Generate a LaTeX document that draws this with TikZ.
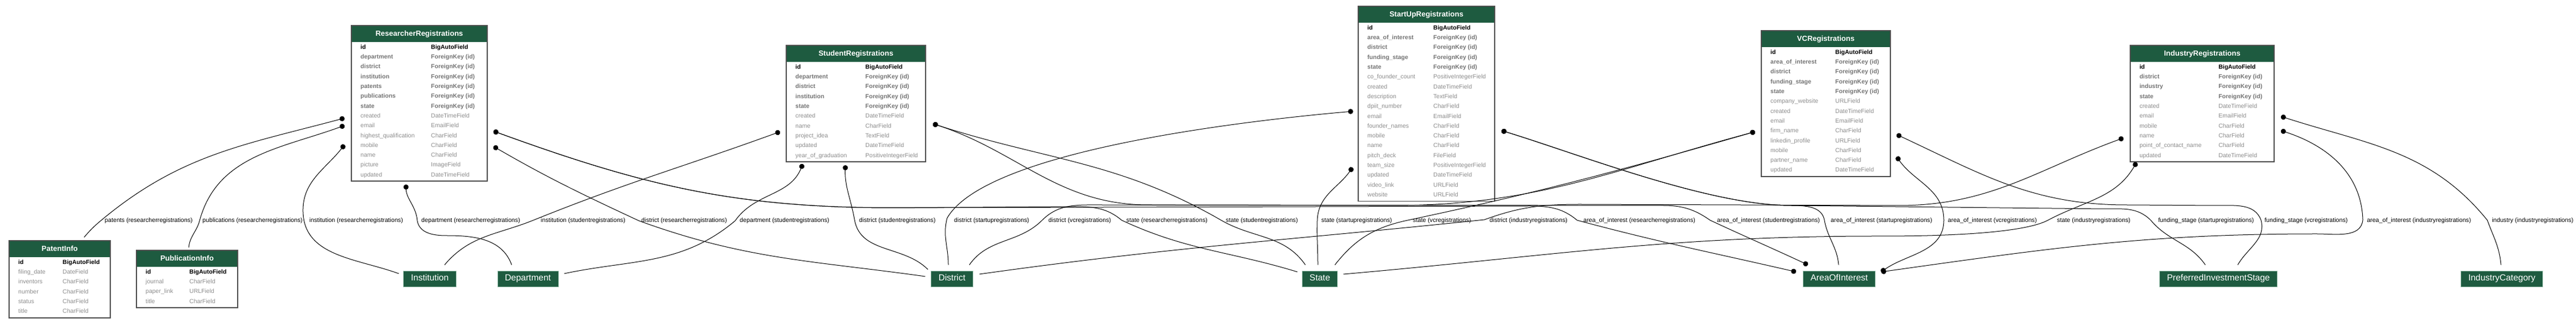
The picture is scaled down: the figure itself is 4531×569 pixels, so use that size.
\documentclass[tikz,border=0pt]{standalone}
\usepackage{fontspec}
\setmainfont{Liberation Sans}
\usepackage{tikz}
\usetikzlibrary{arrows.meta}

\definecolor{modelgreen}{HTML}{1E5B40}
\definecolor{frame}{HTML}{4D4D4D}
\definecolor{edgegreen}{HTML}{A3C7B5}

\newcommand{\modeltable}[8]{%
  \node [tablebody, minimum width=#4pt, minimum height={32pt+#5*17.3pt}] (#1) at (#2,#3) {};
  \fill [modelgreen] (#2,#3) rectangle ++(#4,-29);
  \node [tabletitle] (#1-title) at ({#2+#4/2},{#3-19}) {#7};
  \foreach \sty/\fname/\ftype [count=\i] in {#8} {
    \node [\sty] (#1-f\i) at ({#2+16},{#3-24.1-17.3*\i}) {\fname};
    \node [\sty] (#1-t\i) at ({#2+#6},{#3-24.1-17.3*\i}) {\ftype};
  }
  \draw [tableframe] (#1.north west) rectangle (#1.south east);
}

\begin{document}
\begin{tikzpicture}[x=1pt, y=1pt,
    tablebody/.style={anchor=north west, inner sep=0pt, outer sep=0pt},
    tableframe/.style={draw=frame, line width=1.5pt},
    tabletitle/.style={anchor=base, inner sep=0pt, text=white, font=\fontsize{13}{15}\selectfont\bfseries},
    pkrow/.style={anchor=base west, inner sep=0pt, text=black, font=\fontsize{10.5}{12}\selectfont\bfseries},
    fkrow/.style={pkrow, text=black!55},
    fieldrow/.style={anchor=base west, inner sep=0pt, text=black!45, font=\fontsize{10.5}{12}\selectfont},
    entity/.style={fill=modelgreen, draw=edgegreen, line width=0.8pt, text=white, font=\fontsize{15.5}{18}\selectfont,
      minimum height=28pt, inner xsep=13pt, inner ysep=0pt, text height=11pt, text depth=3pt},
    edgelabel/.style={anchor=west, inner sep=0pt, font=\fontsize{10.7}{12}\selectfont},
    fk/.style={line width=1pt, {Circle[length=9pt]}-},
    m2m/.style={line width=1pt, {Circle[length=9pt]}-{Circle[length=9pt]}}]
\useasboundingbox (0,0) rectangle (4531,569);

\modeltable{patent}{16}{145}{178}{6}{94}{PatentInfo}{pkrow/id/BigAutoField, fieldrow/filing\_date/DateField, fieldrow/inventors/CharField, fieldrow/number/CharField, fieldrow/status/CharField, fieldrow/title/CharField}
\modeltable{publication}{240}{128}{178}{4}{93}{PublicationInfo}{pkrow/id/BigAutoField, fieldrow/journal/CharField, fieldrow/paper\_link/URLField, fieldrow/title/CharField}
\modeltable{researcher}{618}{524}{239}{14}{140}{ResearcherRegistrations}{pkrow/id/BigAutoField, fkrow/department/ForeignKey (id), fkrow/district/ForeignKey (id), fkrow/institution/ForeignKey (id), fkrow/patents/ForeignKey (id), fkrow/publications/ForeignKey (id), fkrow/state/ForeignKey (id), fieldrow/created/DateTimeField, fieldrow/email/EmailField, fieldrow/highest\_qualification/CharField, fieldrow/mobile/CharField, fieldrow/name/CharField, fieldrow/picture/ImageField, fieldrow/updated/DateTimeField}
\modeltable{student}{1383}{489}{245}{10}{139}{StudentRegistrations}{pkrow/id/BigAutoField, fkrow/department/ForeignKey (id), fkrow/district/ForeignKey (id), fkrow/institution/ForeignKey (id), fkrow/state/ForeignKey (id), fieldrow/created/DateTimeField, fieldrow/name/CharField, fieldrow/project\_idea/TextField, fieldrow/updated/DateTimeField, fieldrow/year\_of\_graduation/PositiveIntegerField}
\modeltable{startup}{2389}{558}{240}{18}{132}{StartUpRegistrations}{pkrow/id/BigAutoField, fkrow/area\_of\_interest/ForeignKey (id), fkrow/district/ForeignKey (id), fkrow/funding\_stage/ForeignKey (id), fkrow/state/ForeignKey (id), fieldrow/co\_founder\_count/PositiveIntegerField, fieldrow/created/DateTimeField, fieldrow/description/TextField, fieldrow/dpiit\_number/CharField, fieldrow/email/EmailField, fieldrow/founder\_names/CharField, fieldrow/mobile/CharField, fieldrow/name/CharField, fieldrow/pitch\_deck/FileField, fieldrow/team\_size/PositiveIntegerField, fieldrow/updated/DateTimeField, fieldrow/video\_link/URLField, fieldrow/website/URLField}
\modeltable{vc}{3098}{515}{227}{13}{130}{VCRegistrations}{pkrow/id/BigAutoField, fkrow/area\_of\_interest/ForeignKey (id), fkrow/district/ForeignKey (id), fkrow/funding\_stage/ForeignKey (id), fkrow/state/ForeignKey (id), fieldrow/company\_website/URLField, fieldrow/created/DateTimeField, fieldrow/email/EmailField, fieldrow/firm\_name/CharField, fieldrow/linkedin\_profile/URLField, fieldrow/mobile/CharField, fieldrow/partner\_name/CharField, fieldrow/updated/DateTimeField}
\modeltable{industry}{3747}{489}{253}{10}{155}{IndustryRegistrations}{pkrow/id/BigAutoField, fkrow/district/ForeignKey (id), fkrow/industry/ForeignKey (id), fkrow/state/ForeignKey (id), fieldrow/created/DateTimeField, fieldrow/email/EmailField, fieldrow/mobile/CharField, fieldrow/name/CharField, fieldrow/point\_of\_contact\_name/CharField, fieldrow/updated/DateTimeField}

\node [entity] (institution) at (756,78) {Institution};
\node [entity] (department) at (928.5,78) {Department};
\node [entity] (district) at (1674.5,78) {District};
\node [entity] (state) at (2321.5,78) {State};
\node [entity] (interest) at (3235,78) {AreaOfInterest};
\node [entity] (stage) at (3902,78) {PreferredInvestmentStage};
\node [entity] (category) at (4400.5,78) {IndustryCategory};

\coordinate (researcher-1) at ([shift={(-12,-163)}]researcher.north west);
\coordinate (researcher-2) at ([shift={(-12,-176)}]researcher.north west);
\coordinate (researcher-3) at ([shift={(-12,-210)}]researcher.north west);
\coordinate (researcher-4) at ([shift={(96,-280)}]researcher.north west);
\coordinate (researcher-5) at ([shift={(250,-186)}]researcher.north west);
\coordinate (researcher-6) at ([shift={(250,-213)}]researcher.north west);
\coordinate (student-1) at ([shift={(-11,-152)}]student.north west);
\coordinate (student-2) at ([shift={(29,-209)}]student.north west);
\coordinate (student-3) at ([shift={(104,-211)}]student.north west);
\coordinate (student-4) at ([shift={(258,-138)}]student.north west);
\coordinate (startup-1) at ([shift={(-9,-185)}]startup.north west);
\coordinate (startup-2) at ([shift={(-10,-284)}]startup.north west);
\coordinate (startup-3) at ([shift={(252,-219)}]startup.north west);
\coordinate (vc-1) at ([shift={(-11,-178)}]vc.north west);
\coordinate (vc-2) at ([shift={(238,-183)}]vc.north west);
\coordinate (vc-3) at ([shift={(238,-222)}]vc.north west);
\coordinate (industry-1) at ([shift={(-12,-163)}]industry.north west);
\coordinate (industry-2) at ([shift={(11,-206)}]industry.north west);
\coordinate (industry-3) at ([shift={(265,-125)}]industry.north west);
\coordinate (industry-4) at ([shift={(265,-150)}]industry.north west);

\draw [fk] (researcher-1) to[out=195,in=40] (177,180) to[out=220,in=50] ([shift={(43,6)}]patent.north);
\draw [fk] (researcher-2) to[out=200,in=75] (351,180) to[out=255,in=85] ([shift={(3,5)}]publication.north);
\draw [fk] (researcher-3) to[out=232,in=92] (533,195) to[out=272,in=160] ([shift={(-8,9)}]institution.west);
\draw [fk] (researcher-4) to[out=272,in=95] (734,180) to[out=-80,in=180] (785,154) to[out=0,in=110] ([shift={(-28.5,10)}]department.north);
\draw [fk] (student-1) to[out=200,in=22] (938,181) to[out=202,in=50] ([shift={(26,10)}]institution.north);
\draw [fk] (researcher-6) to[out=-30,in=155] (1124,180) to[out=-20,in=172] ([shift={(-10,4)}]district.west);
\draw [fk] (student-2) to[out=248,in=55] (1293,180) to[out=220,in=12] ([shift={(10,9)}]department.east);
\draw [fk] (student-3) to[out=268,in=100] (1503,182) to[out=-80,in=135] ([shift={(-42.5,2)}]district.north);
\draw [fk] (startup-1) to[out=185,in=60,looseness=0.5] (1666,185) to[out=255,in=90] ([shift={(-6.5,10)}]district.north);
\draw [fk] (vc-1) to[out=195,in=0] (2450,207) -- (1935,208) to[out=180,in=45] (1833,181) to[out=225,in=55] ([shift={(30.5,10)}]district.north);
\draw [fk] (researcher-5) to[out=-20,in=180] (1570,203) -- (1890,205) to[out=0,in=140] (1973,181) to[out=-25,in=163] ([shift={(-8,12)}]state.west);
\draw [fk] (student-4) to[out=-18,in=150] (2148,181) to[out=-30,in=125] ([shift={(-25.5,10)}]state.north);
\draw [fk] (startup-2) to[out=235,in=88] (2317,181) to[out=268,in=90] ([shift={(-3.5,10)}]state.north);
\draw [fk] (vc-1) to[out=196,in=12] (2476,181) to[out=192,in=52] ([shift={(26.5,10)}]state.north);
\draw [fk] (industry-1) to[out=200,in=0] (3340,207) -- (2780,209) to[out=180,in=20] (2611,182) to[out=186,in=8] ([shift={(11,8)}]district.east);
\draw [m2m] (researcher-5) to[out=-20,in=180] (1570,203) -- (2690,206) to[out=0,in=140] (2774,181) to[out=-15,in=167] ([shift={(-12,12)}]interest.west);
\draw [m2m] (student-4) to[out=-18,in=180] (2020,208) -- (2925,207) to[out=0,in=145] (3008,181) to[out=-25,in=155] ([shift={(-55,10)}]interest.north);
\draw [fk] (startup-3) to[out=-17,in=180,looseness=0.7] (3150,207) to[out=0,in=100] (3209,181) to[out=-80,in=95] ([shift={(-1,10)}]interest.north);
\draw [m2m] (vc-3) to[out=-55,in=90] (3419,181) to[out=270,in=35] ([shift={(10,12)}]interest.east);
\draw [fk] (industry-2) to[out=240,in=28] (3602,181) to[out=208,in=0,looseness=0.5] (3300,153) to[out=180,in=5] ([shift={(10,8)}]state.east);
\draw [fk] (startup-3) to[out=-17,in=180,looseness=0.7] (3150,207) -- (3700,201) to[out=0,in=135] (3783,181) to[out=-50,in=125] ([shift={(-23,10)}]stage.north);
\draw [fk] (vc-2) to[out=-25,in=180] (3740,208) -- (3900,207) to[out=0,in=110] (3977,181) to[out=-75,in=60] ([shift={(34,10)}]stage.north);
\draw [m2m] (industry-4) to[out=-18,in=92] (4156,182) to[out=265,in=0] (4075,157) to[out=180,in=8] ([shift={(10,12)}]interest.east);
\draw [fk] (industry-3) to[out=-18,in=129] (4375,181) to[out=-70,in=95] ([shift={(-1.5,10)}]category.north);

\foreach \lx/\ltext [count=\n] in {184/patents (researcherregistrations), 356/publications (researcherregistrations),
    544/institution (researcherregistrations), 741/department (researcherregistrations),
    951/institution (studentregistrations), 1128/district (researcherregistrations),
    1301/department (studentregistrations), 1511/district (studentregistrations),
    1678/district (startupregistrations), 1844/district (vcregistrations),
    1981/state (researcherregistrations), 2156/state (studentregistrations),
    2324/state (startupregistrations), 2485/state (vcregistrations),
    2620/district (industryregistrations), 2785/area\_of\_interest (researcherregistrations),
    3020/area\_of\_interest (studentregistrations), 3220/area\_of\_interest (startupregistrations),
    3426/area\_of\_interest (vcregistrations), 3618/state (industryregistrations),
    3796/funding\_stage (startupregistrations), 3983/funding\_stage (vcregistrations),
    4163/area\_of\_interest (industryregistrations), 4383/industry (industryregistrations)}
  \node [edgelabel] (label-\n) at (\lx,180) {\ltext};
\end{tikzpicture}
\end{document}
